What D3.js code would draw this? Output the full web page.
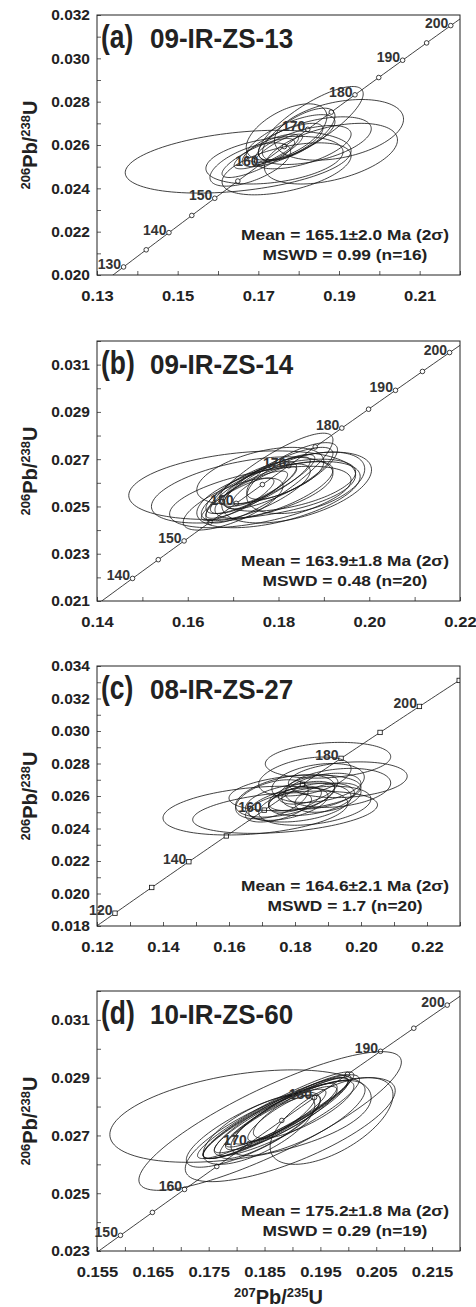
<!DOCTYPE html>
<html>
<head>
<meta charset="utf-8">
<script src="https://cdn.jsdelivr.net/npm/d3@7"></script>
<style>
body { margin: 0; background: #fff; }
svg { display: block; }
</style>
</head>
<body>
<script>
const width = 476;
const height = 1307;

// panel texts
const panelLetters = ["(a)", "(b)", "(c)", "(d)"];
const sampleNames = ["09-IR-ZS-13", "09-IR-ZS-14", "08-IR-ZS-27", "10-IR-ZS-60"];
const meanTexts = ["Mean = 165.1±2.0 Ma (2σ)", "Mean = 163.9±1.8 Ma (2σ)", "Mean = 164.6±2.1 Ma (2σ)", "Mean = 175.2±1.8 Ma (2σ)"];
const mswdTexts = ["MSWD = 0.99 (n=16)", "MSWD = 0.48 (n=20)", "MSWD = 1.7 (n=20)", "MSWD = 0.29 (n=19)"];

// axis domains and tick labels
const xDomains = [[0.13, 0.22], [0.14, 0.22], [0.12, 0.23], [0.155, 0.22]];
const yDomains = [[0.020, 0.032], [0.021, 0.032], [0.018, 0.034], [0.023, 0.032]];
const xLabelsA = [0.13, 0.15, 0.17, 0.19, 0.21];
const xLabelsB = [0.14, 0.16, 0.18, 0.20, 0.22];
const xLabelsC = [0.12, 0.14, 0.16, 0.18, 0.20, 0.22];
const xLabelsD = [0.155, 0.165, 0.175, 0.185, 0.195, 0.205, 0.215];
const yLabelsA = [0.020, 0.022, 0.024, 0.026, 0.028, 0.030, 0.032];
const yLabelsB = [0.021, 0.023, 0.025, 0.027, 0.029, 0.031];
const yLabelsC = [0.018, 0.020, 0.022, 0.024, 0.026, 0.028, 0.030, 0.032, 0.034];
const yLabelsD = [0.023, 0.025, 0.027, 0.029, 0.031];
const xMinorSteps = [0.01, 0.01, 0.01, 0.005];

// concordia age marks (Ma)
const agesA = [130, 135, 140, 145, 150, 155, 160, 165, 170, 175, 180, 185, 190, 195, 200];
const ageLabelsA = [130, 140, 150, 160, 170, 180, 190, 200];
const agesB = [140, 145, 150, 155, 160, 165, 170, 175, 180, 185, 190, 195, 200];
const ageLabelsB = [140, 150, 160, 170, 180, 190, 200];
const agesC = [120, 130, 140, 150, 160, 170, 180, 190, 200, 210];
const ageLabelsC = [120, 140, 160, 180, 200];
const agesD = [150, 155, 160, 165, 170, 175, 180, 185, 190, 195, 200];
const ageLabelsD = [150, 160, 170, 180, 190, 200];

// error ellipses: [207Pb/235U, 2s, 206Pb/238U, 2s, rho]
const ellipsesA = [
  [0.165, 0.028, 0.02523, 0.00145, 0.35],
  [0.190, 0.016, 0.0267, 0.0014, 0.35],
  [0.188, 0.0165, 0.0256, 0.0014, 0.45],
  [0.183, 0.013, 0.0270, 0.0017, 0.8],
  [0.174, 0.017, 0.0253, 0.0011, 0.35],
  [0.177, 0.016, 0.0249, 0.0012, 0.5],
  [0.172, 0.008, 0.0257, 0.0008, 0.8],
  [0.176, 0.010, 0.0260, 0.0010, 0.75],
  [0.178, 0.011, 0.0263, 0.0011, 0.7],
  [0.170, 0.009, 0.0254, 0.0009, 0.8],
  [0.181, 0.012, 0.0259, 0.0010, 0.6],
  [0.175, 0.006, 0.0258, 0.0007, 0.85],
  [0.180, 0.009, 0.0265, 0.0012, 0.7],
  [0.168, 0.010, 0.0251, 0.0010, 0.6],
  [0.184, 0.014, 0.0262, 0.0011, 0.5],
  [0.177, 0.010, 0.0266, 0.0013, 0.55]
];
const ellipsesB = [
  [0.172, 0.025, 0.0259, 0.00145, 0.3],
  [0.178, 0.014, 0.0262, 0.0019, 0.85],
  [0.184, 0.0165, 0.0258, 0.0015, 0.5],
  [0.180, 0.018, 0.0255, 0.0014, 0.55],
  [0.172, 0.020, 0.0257, 0.0014, 0.5],
  [0.176, 0.020, 0.0254, 0.0013, 0.55],
  [0.176, 0.014, 0.0263, 0.0012, 0.5],
  [0.186, 0.013, 0.0260, 0.0013, 0.45],
  [0.182, 0.015, 0.0259, 0.0011, 0.5],
  [0.174, 0.010, 0.0258, 0.0011, 0.8],
  [0.176, 0.011, 0.0259, 0.0012, 0.85],
  [0.173, 0.009, 0.0255, 0.0010, 0.85],
  [0.178, 0.010, 0.0261, 0.0011, 0.85],
  [0.171, 0.008, 0.0253, 0.0009, 0.85],
  [0.180, 0.012, 0.0262, 0.0013, 0.8],
  [0.175, 0.012, 0.0256, 0.0012, 0.75],
  [0.170, 0.011, 0.0251, 0.0011, 0.7],
  [0.179, 0.013, 0.0257, 0.0012, 0.7],
  [0.177, 0.007, 0.0259, 0.0008, 0.85],
  [0.183, 0.010, 0.0265, 0.0012, 0.75]
];
const ellipsesC = [
  [0.190, 0.019, 0.0282, 0.0011, 0.2],
  [0.168, 0.028, 0.0251, 0.0015, 0.3],
  [0.177, 0.028, 0.0250, 0.0013, 0.35],
  [0.196, 0.018, 0.0270, 0.0011, 0.2],
  [0.193, 0.016, 0.0265, 0.0012, 0.25],
  [0.183, 0.014, 0.0272, 0.0012, 0.4],
  [0.180, 0.020, 0.0262, 0.0011, 0.3],
  [0.185, 0.013, 0.0258, 0.0010, 0.4],
  [0.178, 0.012, 0.0255, 0.0010, 0.5],
  [0.182, 0.010, 0.0260, 0.0009, 0.5],
  [0.188, 0.012, 0.0263, 0.0011, 0.4],
  [0.175, 0.010, 0.0253, 0.0009, 0.55],
  [0.186, 0.017, 0.0254, 0.0012, 0.35],
  [0.180, 0.008, 0.0258, 0.0008, 0.5],
  [0.190, 0.010, 0.0259, 0.0009, 0.4],
  [0.177, 0.015, 0.0260, 0.0013, 0.45],
  [0.184, 0.009, 0.0264, 0.0009, 0.5],
  [0.187, 0.014, 0.0268, 0.0012, 0.3],
  [0.181, 0.016, 0.0256, 0.0012, 0.3],
  [0.173, 0.011, 0.0258, 0.0012, 0.45]
];
const ellipsesD = [
  [0.1807, 0.0234, 0.02767, 0.0016, 0.4],
  [0.186, 0.0235, 0.0275, 0.0024, 0.85],
  [0.1896, 0.0188, 0.0272, 0.0018, 0.75],
  [0.197, 0.011, 0.0275, 0.0015, 0.6],
  [0.188, 0.012, 0.0277, 0.0013, 0.92],
  [0.187, 0.013, 0.0276, 0.0014, 0.9],
  [0.189, 0.011, 0.0278, 0.0012, 0.92],
  [0.186, 0.012, 0.0275, 0.0013, 0.9],
  [0.188, 0.010, 0.0276, 0.0011, 0.88],
  [0.190, 0.0105, 0.0279, 0.0012, 0.9],
  [0.187, 0.014, 0.0277, 0.0015, 0.93],
  [0.185, 0.011, 0.0274, 0.0012, 0.9],
  [0.189, 0.013, 0.0277, 0.0014, 0.88],
  [0.188, 0.006, 0.0276, 0.0008, 0.85],
  [0.191, 0.012, 0.0276, 0.0013, 0.75],
  [0.186, 0.009, 0.0273, 0.0011, 0.85],
  [0.184, 0.010, 0.0272, 0.0012, 0.7],
  [0.192, 0.009, 0.0279, 0.0010, 0.8],
  [0.183, 0.012, 0.0272, 0.0013, 0.8]
];

const panels = [
  { ell: ellipsesA, xLab: xLabelsA, yLab: yLabelsA, ages: agesA, ageLab: ageLabelsA, mark: "circle", xFmt: ".2f", top: 15 },
  { ell: ellipsesB, xLab: xLabelsB, yLab: yLabelsB, ages: agesB, ageLab: ageLabelsB, mark: "circle", xFmt: ".2f", top: 341 },
  { ell: ellipsesC, xLab: xLabelsC, yLab: yLabelsC, ages: agesC, ageLab: ageLabelsC, mark: "square", xFmt: ".2f", top: 666 },
  { ell: ellipsesD, xLab: xLabelsD, yLab: yLabelsD, ages: agesD, ageLab: ageLabelsD, mark: "circle", xFmt: ".3f", top: 991 }
];

// decay constants per Ma
const l238 = 1.55125e-4, l235 = 9.8485e-4;
function concordia(t) {
    return [Math.exp(l235 * t) - 1, Math.exp(l238 * t) - 1];
}

const left = 97, right = 460, ph = 260;
const font = "'Liberation Sans', Arial, Helvetica, sans-serif";

const svg = d3.select("body")
    .append("svg")
    .attr("width", width)
    .attr("height", height)
    .style("font-family", font);

const key = v => Math.round(v * 100000);

panels.forEach(function (p, i) {
    const top = p.top, bottom = top + ph;
    const x = d3.scaleLinear().domain(xDomains[i]).range([left, right]);
    const y = d3.scaleLinear().domain(yDomains[i]).range([bottom, top]);

    const g = svg.append("g");

    g.append("clipPath").attr("id", "clip" + i)
      .append("rect")
        .attr("x", left).attr("y", top)
        .attr("width", right - left).attr("height", ph);

    // ticks, all pointing inward
    const xs = xMinorSteps[i];
    const xMinor = d3.range(xDomains[i][0], xDomains[i][1] + xs / 2, xs).map(v => +v.toFixed(4));
    const yMinor = d3.range(yDomains[i][0], yDomains[i][1] + 0.0005, 0.001).map(v => +v.toFixed(4));
    const xSet = new Set(p.xLab.map(key));
    const ySet = new Set(p.yLab.map(key));

    const xAxis = g.append("g")
        .attr("transform", `translate(0,${bottom})`)
        .call(d3.axisBottom(x).tickValues(xMinor).tickSizeInner(-4).tickSizeOuter(0).tickPadding(15)
            .tickFormat(d => xSet.has(key(d)) ? d3.format(p.xFmt)(d) : ""));
    const yAxis = g.append("g")
        .attr("transform", `translate(${left},0)`)
        .call(d3.axisLeft(y).tickValues(yMinor).tickSizeInner(-4).tickSizeOuter(0).tickPadding(7)
            .tickFormat(d => ySet.has(key(d)) ? d3.format(".3f")(d) : ""));
    [xAxis, yAxis].forEach(function (a) {
        a.select(".domain").remove();
        a.selectAll(".tick line").attr("stroke", "#333").attr("stroke-width", 0.8);
        a.selectAll(".tick text")
            .attr("fill", "#222")
            .style("font-family", font)
            .style("font-size", "15.5px")
            .style("font-weight", "bold");
    });
    xAxis.selectAll(".tick text").attr("transform", "scale(1.07,1)");

    const plot = g.append("g").attr("clip-path", `url(#clip${i})`);

    // concordia curve
    const curve = d3.range(0, 320, 1).map(concordia);
    plot.append("path")
        .datum(curve)
        .attr("d", d3.line().x(d => x(d[0])).y(d => y(d[1])))
        .attr("fill", "none")
        .attr("stroke", "#111")
        .attr("stroke-width", 0.8);

    // age markers
    const pts = p.ages.map(a => concordia(a));
    if (p.mark === "circle") {
        plot.selectAll("circle.age")
            .data(pts).enter().append("circle")
            .attr("class", "age")
            .attr("cx", d => x(d[0])).attr("cy", d => y(d[1]))
            .attr("r", 2.3)
            .attr("fill", "#fff").attr("stroke", "#111").attr("stroke-width", 0.8);
    } else {
        plot.selectAll("rect.age")
            .data(pts).enter().append("rect")
            .attr("class", "age")
            .attr("x", d => x(d[0]) - 2.2).attr("y", d => y(d[1]) - 2.2)
            .attr("width", 4.4).attr("height", 4.4)
            .attr("fill", "#fff").attr("stroke", "#111").attr("stroke-width", 0.8);
    }

    g.selectAll("text.age")
        .data(p.ageLab).enter().append("text")
        .attr("class", "age")
        .attr("x", a => x(concordia(a)[0]) - 2.5)
        .attr("y", a => y(concordia(a)[1]) + 2)
        .attr("text-anchor", "end")
        .attr("fill", "#333")
        .style("font-size", "14px")
        .style("font-weight", "bold")
        .text(a => a);

    // error ellipses
    const ellLine = d3.line().x(d => x(d[0])).y(d => y(d[1]));
    plot.selectAll("path.ell")
        .data(p.ell).enter().append("path")
        .attr("class", "ell")
        .attr("d", function (e) {
            const [cx, sx, cy, sy, r] = e;
            const q = Math.sqrt(1 - r * r);
            const ring = d3.range(0, 121).map(k => {
                const th = k / 120 * 2 * Math.PI;
                return [cx + sx * Math.cos(th), cy + sy * (r * Math.cos(th) + q * Math.sin(th))];
            });
            return ellLine(ring) + "Z";
        })
        .attr("fill", "none")
        .attr("stroke", "#111")
        .attr("stroke-width", 0.8);

    // frame
    g.append("rect")
        .attr("x", left).attr("y", top)
        .attr("width", right - left).attr("height", ph)
        .attr("fill", "none").attr("stroke", "#222").attr("stroke-width", 1);

    // title
    g.append("text")
        .attr("transform", `translate(101,${top + 33}) scale(0.8,1)`)
        .style("font-size", "33px").style("font-weight", "bold").attr("fill", "#222")
        .text(panelLetters[i]);
    g.append("text")
        .attr("transform", `translate(150,${top + 33}) scale(0.93,1)`)
        .style("font-size", "28px").style("font-weight", "bold").attr("fill", "#222")
        .text(sampleNames[i]);

    // mean / MSWD
    const mx = 345;
    [[meanTexts[i], bottom - 35], [mswdTexts[i], bottom - 15]].forEach(function (t) {
        g.append("text")
            .attr("transform", `translate(${mx},${t[1]}) scale(1.12,1)`)
            .attr("text-anchor", "middle")
            .style("font-size", "15.5px").style("font-weight", "bold").attr("fill", "#222")
            .text(t[0]);
    });

    // y-axis title
    const yt = g.append("text")
        .attr("transform", `translate(37,${top + ph / 2}) rotate(-90)`)
        .attr("text-anchor", "middle")
        .style("font-size", "20px").style("font-weight", "bold").attr("fill", "#222");
    yt.append("tspan").attr("baseline-shift", "super").style("font-size", "13px").text("206");
    yt.append("tspan").text("Pb/");
    yt.append("tspan").attr("baseline-shift", "super").style("font-size", "13px").text("238");
    yt.append("tspan").text("U");

    if (i === 3) {
        const xt = g.append("text")
            .attr("transform", `translate(${(left + right) / 2},1304)`)
            .attr("text-anchor", "middle")
            .style("font-size", "20px").style("font-weight", "bold").attr("fill", "#222");
        xt.append("tspan").attr("baseline-shift", "super").style("font-size", "13px").text("207");
        xt.append("tspan").text("Pb/");
        xt.append("tspan").attr("baseline-shift", "super").style("font-size", "13px").text("235");
        xt.append("tspan").text("U");
    }
});
</script>
</body>
</html>
